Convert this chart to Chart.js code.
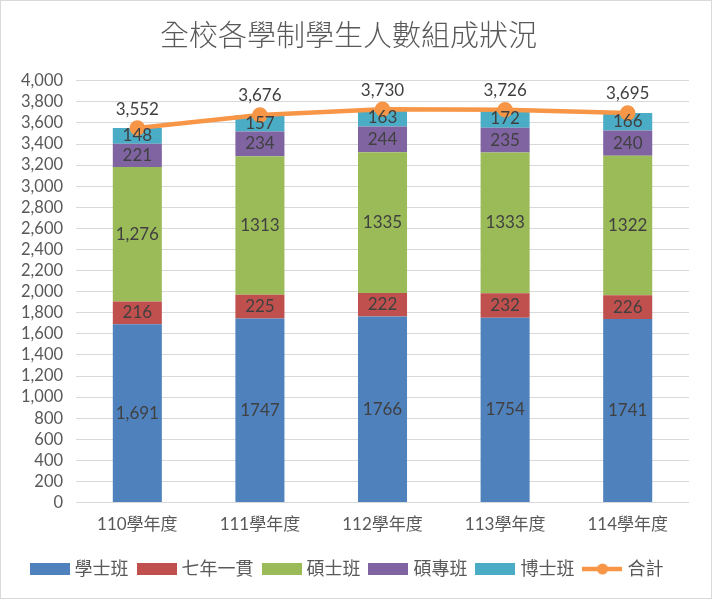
<!DOCTYPE html>
<html>
<head>
<meta charset="utf-8">
<script src="https://cdn.jsdelivr.net/npm/chart.js@4"></script>
<style>
  html, body { margin: 0; padding: 0; background: #fff; }
  #wrap { width: 710px; height: 597px; border: 1px solid #d9d9d9; }
</style>
</head>
<body>
<div id="wrap"><canvas id="c" width="710" height="597"></canvas></div>
<script>
const years = ['110學年度', '111學年度', '112學年度', '113學年度', '114學年度'];
const bachelor = [1691, 1747, 1766, 1754, 1741];
const sevenYear = [216, 225, 222, 232, 226];
const master = [1276, 1313, 1335, 1333, 1322];
const execMaster = [221, 234, 244, 235, 240];
const doctor = [148, 157, 163, 172, 166];
const total = [3552, 3676, 3730, 3726, 3695];
// only the first year's labels use a thousands separator in the original
const commaCols = [true, false, false, false, false];

const FONT = 'Lato, "Noto Sans CJK TC", sans-serif';
const TEXT = '#595959';

function boxIcon(color) {
  const cv = document.createElement('canvas');
  cv.width = 40; cv.height = 12;
  const g = cv.getContext('2d');
  g.fillStyle = color;
  g.fillRect(0, 0, 40, 12);
  return cv;
}
function lineIcon(color) {
  const cv = document.createElement('canvas');
  cv.width = 40; cv.height = 12;
  const g = cv.getContext('2d');
  g.strokeStyle = color; g.lineWidth = 4.5;
  g.beginPath(); g.moveTo(0, 6); g.lineTo(40, 6); g.stroke();
  g.fillStyle = color;
  g.beginPath(); g.arc(20, 6, 5.5, 0, Math.PI * 2); g.fill();
  return cv;
}

const bar = (label, data, color) => ({
  type: 'bar', label, data, backgroundColor: color, stack: 's', order: 2,
  barPercentage: 0.4, categoryPercentage: 1, icon: boxIcon(color)
});

const datasets = [
  bar('學士班', bachelor, '#4F81BD'),
  bar('七年一貫', sevenYear, '#C0504D'),
  bar('碩士班', master, '#9BBB59'),
  bar('碩專班', execMaster, '#8064A2'),
  bar('博士班', doctor, '#4BACC6'),
  {
    type: 'line', label: '合計', data: total, stack: 'total', order: 1,
    borderColor: '#F79646', backgroundColor: '#F79646', borderWidth: 4.5,
    pointRadius: 5.5, pointHoverRadius: 5.5, tension: 0, icon: lineIcon('#F79646')
  }
];

const valueLabels = {
  id: 'valueLabels',
  afterDatasetsDraw(chart) {
    const ctx = chart.ctx;
    ctx.save();
    ctx.font = '17px ' + FONT;
    ctx.fillStyle = '#404040';
    ctx.textAlign = 'center';
    ctx.textBaseline = 'middle';
    chart.data.datasets.forEach((ds, di) => {
      const meta = chart.getDatasetMeta(di);
      meta.data.forEach((el, i) => {
        const v = ds.data[i];
        if (ds.type === 'line') {
          ctx.fillText(v.toLocaleString('en-US'), el.x, el.y - 19);
        } else {
          const txt = commaCols[i] ? v.toLocaleString('en-US') : String(v);
          ctx.fillText(txt, el.x, (el.y + el.base) / 2);
        }
      });
    });
    ctx.restore();
  }
};

new Chart(document.getElementById('c'), {
  data: { labels: years, datasets },
  options: {
    responsive: false,
    animation: false,
    layout: { padding: { left: 7, right: 22, top: 0, bottom: 10 } },
    plugins: {
      title: {
        display: true, text: '全校各學制學生人數組成狀況',
        color: TEXT, font: { family: FONT, size: 29, weight: 300 },
        padding: { top: 18, bottom: 27 }
      },
      legend: {
        position: 'bottom',
        labels: {
          usePointStyle: true,
          pointStyleWidth: 32,
          boxHeight: 12,
          color: TEXT,
          font: { family: FONT, size: 18 },
          padding: 12,
          generateLabels(chart) {
            return chart.data.datasets.map((ds, i) => ({
              text: ds.label, pointStyle: ds.icon, fontColor: TEXT,
              datasetIndex: i, hidden: false, lineWidth: 0
            }));
          }
        }
      },
      tooltip: { enabled: false }
    },
    scales: {
      x: {
        stacked: true,
        grid: { display: false },
        border: { display: false },
        ticks: { color: TEXT, font: { family: FONT, size: 17 }, padding: 4 },
        afterFit(scale) { scale.height += 9; }
      },
      y: {
        stacked: true,
        min: 0, max: 4000,
        grid: { color: '#d9d9d9', lineWidth: 1, drawTicks: false },
        border: { display: false },
        ticks: { stepSize: 200, autoSkip: false, color: TEXT, font: { family: FONT, size: 16.5 }, padding: 13 }
      }
    }
  },
  plugins: [valueLabels]
});
</script>
</body>
</html>
